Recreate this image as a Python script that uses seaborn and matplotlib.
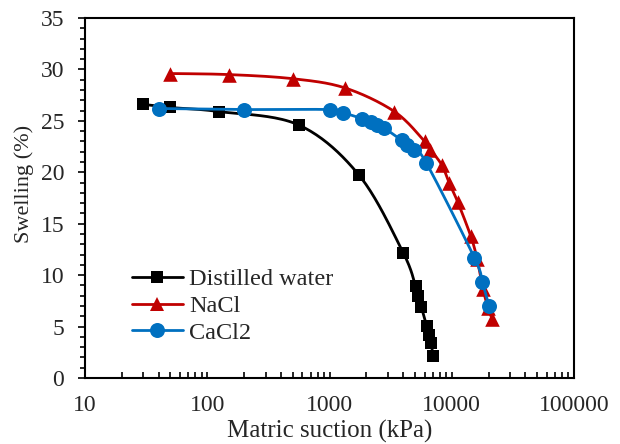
import numpy as np
import pandas as pd
import matplotlib
matplotlib.use("Agg")
import matplotlib.pyplot as plt
from matplotlib.lines import Line2D
from matplotlib.ticker import LogLocator, FixedLocator, FuncFormatter, MultipleLocator
import seaborn as sns

# ---- data ----
water_suction = [30, 50, 125, 560, 1750, 4000, 5070, 5330, 5640, 6240, 6550, 6760, 7070]
water_swell = [26.6, 26.3, 25.9, 24.6, 19.7, 12.2, 8.9, 8.0, 6.9, 5.1, 4.2, 3.4, 2.1]

nacl_suction = [50, 150, 500, 1340, 3400, 6000, 6700, 8300, 9500, 11200, 14300, 16100, 18000, 19800, 21500]
nacl_swell = [29.6, 29.5, 29.1, 28.2, 25.9, 23.0, 22.2, 20.7, 19.0, 17.1, 13.8, 11.6, 8.7, 6.8, 5.7]

cacl_suction = [40, 200, 1000, 1300, 1850, 2200, 2450, 2800, 3900, 4300, 4900, 6200, 15300, 17800, 20200]
cacl_swell = [26.2, 26.1, 26.1, 25.8, 25.2, 24.9, 24.6, 24.3, 23.1, 22.7, 22.2, 20.9, 11.7, 9.3, 7.0]

labels = ["Distilled water", "NaCl", "CaCl2"]
colors = ["#000000", "#C00000", "#0070C0"]
markers = ["s", "^", "o"]
msizes = [9.2, 10.5, 10.8]

x_ticks = [10, 100, 1000, 10000, 100000]
y_ticks = [0, 5, 10, 15, 20, 25, 30, 35]


def smooth(xs, ys, n=24):
    """Excel-like smoothed line (Catmull-Rom Bezier) in log-x space."""
    P = np.column_stack([np.log10(np.asarray(xs, float)), np.asarray(ys, float)])
    out = []
    t = np.linspace(0, 1, n)[:, None]
    for i in range(len(P) - 1):
        p0 = P[i - 1] if i > 0 else P[i]
        p1, p2 = P[i], P[i + 1]
        p3 = P[i + 2] if i + 2 < len(P) else P[i + 1]
        c1 = p1 + (p2 - p0) / 6.0
        c2 = p2 - (p3 - p1) / 6.0
        B = (1 - t) ** 3 * p1 + 3 * (1 - t) ** 2 * t * c1 + 3 * (1 - t) * t ** 2 * c2 + t ** 3 * p2
        out.append(B if i == 0 else B[1:])
    out = np.vstack(out)
    return 10 ** out[:, 0], out[:, 1]


sns.set_style("ticks")
plt.rcParams["font.family"] = ["Liberation Serif", "DejaVu Serif"]

fig = plt.figure(figsize=(6.2, 4.44), dpi=100)
ax = fig.add_axes([85 / 620, 1 - 378 / 444, (574 - 85) / 620, (378 - 18) / 444])

series = [
    (water_suction, water_swell),
    (nacl_suction, nacl_swell),
    (cacl_suction, cacl_swell),
]

z = 2
for (xs, ys), lab, col, mk, ms in zip(series, labels, colors, markers, msizes):
    sx, sy = smooth(xs, ys)
    line_df = pd.DataFrame({"x": sx, "y": sy})
    sns.lineplot(data=line_df, x="x", y="y", sort=False, estimator=None, color=col,
                 linewidth=2.0, ax=ax, zorder=z, legend=False)
    pts = pd.DataFrame({"x": xs, "y": ys})
    sns.scatterplot(data=pts, x="x", y="y", marker=mk, s=ms ** 2, color=col,
                    edgecolor=col, linewidth=0, ax=ax, zorder=z + 1, legend=False)
    z += 2

ax.set_xscale("log")
ax.set_xlim(10, 100000)
ax.set_ylim(0, 35)

ax.xaxis.set_major_locator(FixedLocator(x_ticks))
ax.xaxis.set_major_formatter(FuncFormatter(lambda v, p: f"{int(round(v))}"))
ax.xaxis.set_minor_locator(LogLocator(base=10, subs=np.arange(2, 10), numticks=20))
ax.xaxis.set_minor_formatter(FuncFormatter(lambda v, p: ""))
ax.yaxis.set_major_locator(FixedLocator(y_ticks))
ax.yaxis.set_minor_locator(MultipleLocator(1))

ax.tick_params(axis="x", which="both", direction="in", length=4.5, width=1.2,
               labelsize=17, pad=12, color="black")
ax.tick_params(axis="y", which="major", direction="out", length=5, width=1.2,
               labelsize=17, pad=10, color="black")
ax.tick_params(axis="y", which="minor", direction="out", length=3.5, width=1.2, color="black")

for sp in ax.spines.values():
    sp.set_visible(True)
    sp.set_linewidth(1.5)
    sp.set_color("black")

ax.set_xlabel("Matric suction (kPa)", fontsize=18, labelpad=3)
ax.set_ylabel("Swelling (%)", fontsize=16, labelpad=4)
ax.yaxis.set_label_coords(-0.104, 0.54)

handles = [Line2D([], [], color=c, marker=m, markersize=s, linewidth=2.0, markeredgewidth=0)
           for c, m, s in zip(colors, markers, msizes)]
ax.legend(handles, labels, loc="upper left", bbox_to_anchor=(0.096, 0.305), frameon=False,
          fontsize=17.5, handlelength=2.1, handletextpad=0.25, labelspacing=0.2,
          borderpad=0, borderaxespad=0)

fig.savefig("out.png", dpi=100, facecolor="white")
